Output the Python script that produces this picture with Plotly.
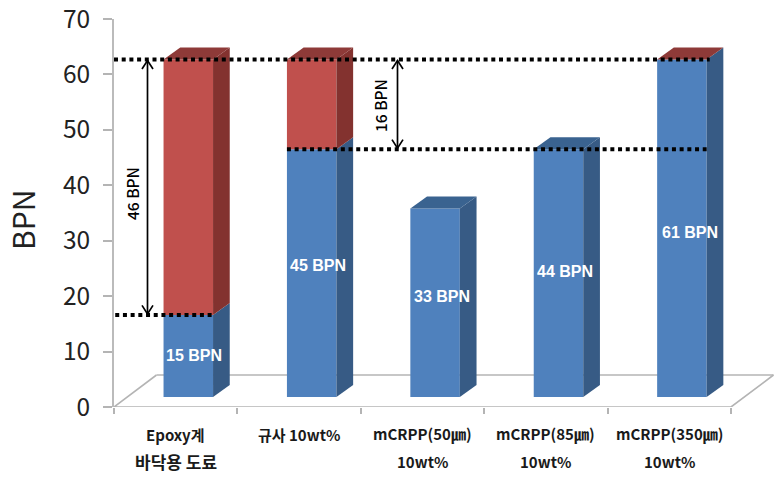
import plotly.graph_objects as go

categories_line1 = ["Epoxy계", "규사 10wt%", "mCRPP(50㎛)", "mCRPP(85㎛)", "mCRPP(350㎛)"]
categories_line2 = ["바닥용 도료", "", "10wt%", "10wt%", "10wt%"]
blue_values = [14.8, 44.7, 34.0, 44.7, 60.9]
red_values = [46.1, 16.2, None, None, 0.0]
bar_labels = ["15 BPN", "45 BPN", "33 BPN", "44 BPN", "61 BPN"]
y_ticks = [0, 10, 20, 30, 40, 50, 60, 70]

# projection / style constants
PX_X, PX_Y = 123.4, 388 / 70
FLOOR = 10 / PX_Y            # front face sits above the axis floor
BAR_W = 49.5 / PX_X
BAR_SHIFT = 0.102
DX, DY = 16.7 / PX_X, 12 / PX_Y
BACK_DX, BACK_DY = 42.5 / PX_X, 32 / PX_Y
BLUE, BLUE_SIDE, BLUE_TOP = "#4F81BD", "#375B85", "#3A6390"
RED, RED_SIDE, RED_TOP = "#C0504D", "#83322F", "#8E3A38"
KR = "Noto Sans CJK KR"
FLOOR_C = "#B4B4B4"

n = len(categories_line1)
cx = [i + 0.5 + BAR_SHIFT for i in range(n)]
left = [c - BAR_W / 2 for c in cx]
right = [c + BAR_W / 2 for c in cx]

fig = go.Figure()


def face(xs, ys, color):
    fig.add_trace(go.Scatter(x=xs, y=ys, mode="lines", fill="toself", fillcolor=color,
                             line=dict(width=0, color=color), hoverinfo="skip", cliponaxis=False))


fig.add_trace(go.Bar(x=cx, y=blue_values, base=[FLOOR] * n, width=BAR_W, marker=dict(color=BLUE, line_width=0)))
red_bottom = [FLOOR + b for b in blue_values]
fig.add_trace(go.Bar(x=cx, y=[r or 0 for r in red_values], base=red_bottom, width=BAR_W,
                     marker=dict(color=RED, line_width=0)))

for i in range(n):
    b0 = FLOOR
    b1 = FLOOR + blue_values[i]
    r = right[i]
    face([r, r + DX, r + DX, r], [b0, b0 + DY, b1 + DY, b1], BLUE_SIDE)
    top = b1
    if red_values[i]:
        top = b1 + red_values[i]
        face([r, r + DX, r + DX, r], [b1, b1 + DY, top + DY, top], RED_SIDE)
    top_color = RED_TOP if red_values[i] is not None else BLUE_TOP
    face([left[i], r, r + DX, left[i] + DX], [top, top, top + DY, top + DY], top_color)


def line(xs, ys, **kw):
    fig.add_trace(go.Scatter(x=xs, y=ys, mode="lines", hoverinfo="skip", cliponaxis=False, **kw))


# floor outline
floor_style = dict(color=FLOOR_C, width=1.6)
line([BACK_DX, 0, n, n + BACK_DX], [BACK_DY, 0, 0, BACK_DY], line=floor_style)

# dotted reference levels
top_level = FLOOR + blue_values[0] + red_values[0]
low_level = FLOOR + blue_values[0]
mid_level = FLOOR + blue_values[1]
dots = dict(color="black", width=4, dash="4px,3.7px")
line([0, right[4] + 0.025], [top_level] * 2, line=dots)
line([left[1], right[4]], [mid_level] * 2, line=dots)
line([0.01, right[0]], [low_level] * 2, line=dots)

# double arrows with open V heads
HEAD_W, HEAD_H = 5.5 / PX_X, 8.5 / PX_Y
arrow = dict(color="black", width=1.7)
for xa, y_hi, y_lo in [(33.5 / PX_X, top_level, low_level), (283.5 / PX_X, top_level, mid_level)]:
    line([xa, xa], [y_hi - 0.2, y_lo + 0.2], line=arrow)
    line([xa - HEAD_W, xa, xa + HEAD_W], [y_hi - 0.2 - HEAD_H, y_hi - 0.2, y_hi - 0.2 - HEAD_H], line=arrow)
    line([xa - HEAD_W, xa, xa + HEAD_W], [y_lo + 0.2 + HEAD_H, y_lo + 0.2, y_lo + 0.2 + HEAD_H], line=arrow)

annotations = []
label_dx = [5.5, 6.5, 7, 6.5, 8]
label_dy = [0.5, 8, 6, 2, -4]
for i in range(n):
    mid = FLOOR + blue_values[i] / 2
    annotations.append(dict(x=cx[i], y=mid, text=bar_labels[i], showarrow=False, xshift=label_dx[i], yshift=label_dy[i],
                            font=dict(family="Liberation Sans", size=16, color="white", weight="bold")))
    annotations.append(dict(x=i + 0.5, y=0, text=categories_line1[i], showarrow=False, yshift=-27,
                            font=dict(family=KR, size=15, color="#1a1a1a", weight="bold")))
    if categories_line2[i]:
        size2 = 17 if i == 0 else 15
        annotations.append(dict(x=i + 0.5, y=0, text=categories_line2[i], showarrow=False, yshift=-54,
                                font=dict(family=KR, size=size2, color="#1a1a1a", weight="bold")))

side_font = dict(family=KR, size=15.5, color="black", weight=500)
annotations.append(dict(x=18 / PX_X, y=(407 - 194) / PX_Y, text="46 BPN", textangle=-90, showarrow=False, font=side_font))
annotations.append(dict(x=266 / PX_X, y=(407 - 106) / PX_Y, text="16 BPN", textangle=-90, showarrow=False, font=side_font))
annotations.append(dict(x=0, xshift=-92, y=(407 - 220) / PX_Y, text="BPN", textangle=-90, showarrow=False,
                        font=dict(family=KR, size=30, color="#222222")))

fig.update_layout(
    width=780, height=479, autosize=False,
    margin=dict(l=114, r=0, t=19, b=72, autoexpand=False),
    paper_bgcolor="white", plot_bgcolor="white",
    showlegend=False, barmode="overlay",
    annotations=annotations,
    shapes=[dict(type="line", layer="below", xref="x", yref="y", x0=BACK_DX, x1=n + BACK_DX,
                 y0=BACK_DY, y1=BACK_DY, line=dict(color=FLOOR_C, width=1.6))],
    xaxis=dict(range=[0, 666 / PX_X], tickmode="array", tickvals=list(range(n + 1)), showticklabels=False,
               ticks="outside", ticklen=6, tickcolor=FLOOR_C, tickwidth=1.5, showline=False,
               showgrid=False, zeroline=False, automargin=False),
    yaxis=dict(range=[0, 70], tickmode="array", tickvals=y_ticks, ticks="outside", ticklen=9,
               tickcolor=FLOOR_C, tickwidth=1.5, showline=True, linecolor="#BBBBBB", linewidth=2,
               showgrid=False, zeroline=False, tickfont=dict(family=KR, size=24.5, color="#222222"),
               ticklabeloverflow="allow", ticklabelstandoff=8, automargin=False),
)

fig.write_html("out.html", config={"displayModeBar": False}, post_script="document.body.style.margin='0';")
